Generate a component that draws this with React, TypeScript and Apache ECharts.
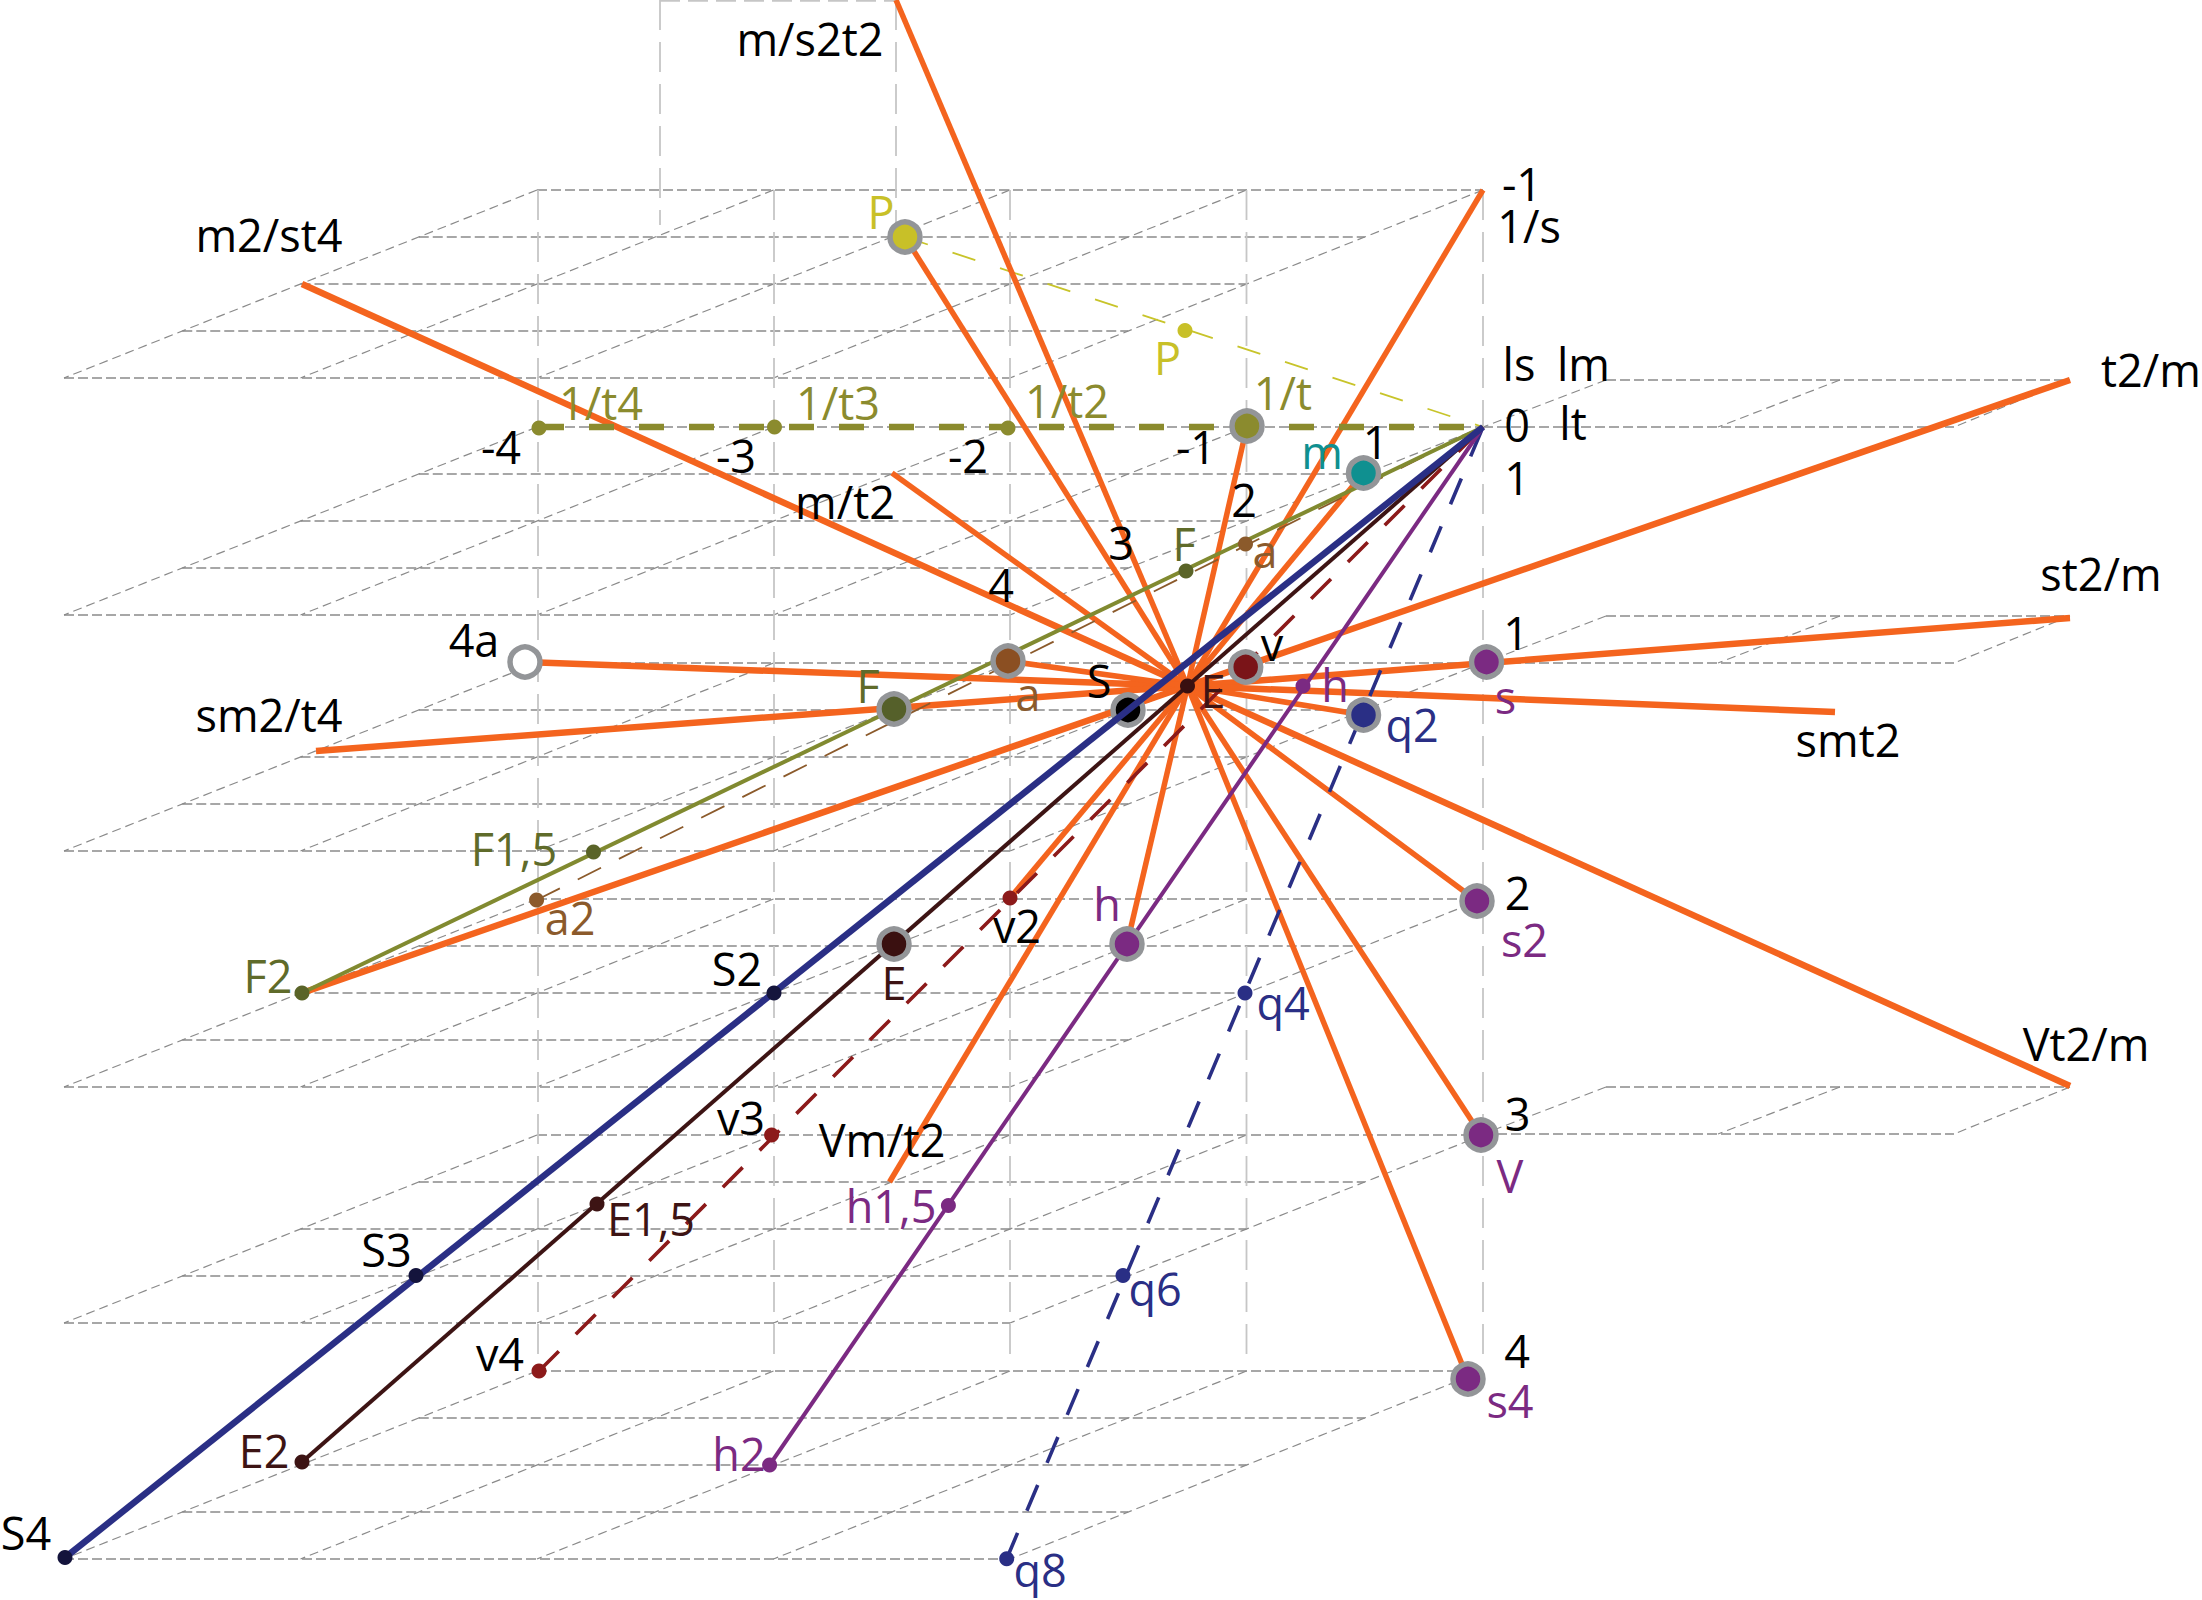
import React, { useEffect, useRef } from "react";
import * as echarts from "echarts";

type P = [number, number];
const ORIGIN: P = [1483, 427];
const CENTER: P = [1187.5, 686];

// Lattice guide planes (y of the back row of each plane)
const planeYs = [190, 427, 663, 899, 1135, 1371];
const rightPlaneYs = [427, 663, 1134];

// Orange rays from the centre point
const heavyRayEnds: P[] = [
  [2070, 380], [2070, 618], [1835, 712], [2070, 1086], [302, 284], [525, 662], [316, 751], [302, 993],
];
const rayEnds: P[] = [
  [1483, 190], [896, 0],
  [905, 237], [892, 473],
  [889.5, 1182], [1127, 944], [1010, 898], [1247, 426], [1363.5, 473],
  [1363.5, 715], [1477, 901], [1481, 1135], [1468, 1379], [1008, 661],
];

// Lines from the origin
const olive: P[] = [ORIGIN, [302, 993]];
const brownDash: P[] = [[536.6, 900], ORIGIN];
const navy: P[] = [ORIGIN, [65, 1557.6]];
const darkBrown: P[] = [ORIGIN, [302, 1462]];
const redDash: P[] = [[539, 1371], ORIGIN];
const purple: P[] = [ORIGIN, [769.6, 1465]];
const navyDash: P[] = [[1006.7, 1558.7], ORIGIN];
const thickOlive: P[] = [[539, 427], ORIGIN];
const yellowDash: P[] = [[905, 237], ORIGIN];

// Ringed points
const ringPoints: [number, number, string][] = [
  [905, 237, "#c8c028"], [1247, 426, "#8b8b2e"], [1363.5, 473, "#0f9090"],
  [1008, 661, "#8b4f22"], [894, 709, "#55602a"], [1128, 710, "#000000"],
  [1245.7, 667, "#7a1418"], [1486.5, 662, "#7b2a82"], [1363.5, 715, "#2a2f85"],
  [894, 944, "#3a1010"], [1127, 944, "#7b2a82"], [1477, 901, "#7b2a82"],
  [1481, 1135, "#7b2a82"], [1468, 1379, "#7b2a82"], [525, 662, "#ffffff"],
];

// Small dots
const smallDots: [number, number, string][] = [
  [539, 428, "#8b8b2e"], [774.5, 427, "#8b8b2e"], [1008, 428, "#8b8b2e"],
  [1185, 330.6, "#c8c028"], [1186, 571, "#5a6428"], [1245.5, 544, "#8b5a2b"],
  [593.5, 852, "#5a6428"], [536.6, 900, "#8b5a2b"], [302, 993, "#5a6428"],
  [774, 993, "#14143c"], [416, 1275.5, "#14143c"], [65, 1557.6, "#14143c"],
  [597, 1204, "#3d1414"], [302, 1462, "#3d1414"], [1187.5, 686, "#3a1010"],
  [1010, 898, "#8c1a1a"], [771.6, 1135, "#8c1a1a"], [539, 1371, "#8c1a1a"],
  [1303, 686, "#7b2a82"], [948.4, 1205.6, "#7b2a82"], [769.6, 1465, "#7b2a82"],
  [1245, 993, "#2a2f85"], [1123, 1275.5, "#2a2f85"], [1006.7, 1558.7, "#2a2f85"],
];

type L = [string, number, number];
const blackLabels: L[] = [
  ["m/s2t2", 810, 38], ["m2/st4", 269, 234], ["-4", 501, 446], ["-3", 736, 455],
  ["-2", 968, 455], ["-1", 1196, 446], ["m/t2", 845, 501], ["4", 1001, 584],
  ["3", 1121, 542], ["2", 1244, 499], ["1", 1375.5, 441], ["4a", 474, 639],
  ["S", 1099, 680], ["v", 1272, 643], ["1", 1516, 632], ["sm2/t4", 269, 714],
  ["-1", 1522, 183], ["1/s", 1529, 225], ["ls", 1519, 363], ["lm", 1583.5, 363],
  ["0", 1517, 424.5], ["lt", 1573, 422], ["1", 1517, 477], ["t2/m", 2151, 369],
  ["st2/m", 2101, 573], ["smt2", 1848, 739], ["S2", 737, 968], ["v2", 1017, 925],
  ["v3", 741, 1117], ["Vm/t2", 882, 1139], ["S3", 386.5, 1249.5], ["v4", 500, 1353],
  ["S4", 26, 1532], ["2", 1517.5, 892], ["3", 1517.5, 1113], ["Vt2/m", 2086, 1043],
  ["4", 1517, 1350.6],
];
const oliveLabels: L[] = [["1/t4", 601, 402], ["1/t3", 838, 402], ["1/t2", 1067, 400], ["1/t", 1283, 392]];
const darkOliveLabels: L[] = [["F", 868, 685], ["F", 1184, 543], ["F1,5", 514, 848], ["F2", 268, 975.5]];
const brownLabels: L[] = [["a", 1028, 693], ["a", 1265, 550], ["a2", 570, 917]];
const yellowLabels: L[] = [["P", 881, 211], ["P", 1167.5, 357]];
const tealLabels: L[] = [["m", 1322, 451]];
const darkBrownLabels: L[] = [["E", 1213, 690], ["E", 894, 982], ["E1,5", 651, 1218], ["E2", 264, 1450]];
const purpleLabels: L[] = [
  ["h", 1335, 684], ["s", 1505.5, 696], ["h", 1107, 903], ["s2", 1524.5, 939],
  ["V", 1510, 1175.6], ["s4", 1510, 1400], ["h1,5", 891, 1205], ["h2", 739, 1453],
];
const navyLabels: L[] = [["q2", 1412, 724], ["q4", 1283, 1002.6], ["q6", 1155, 1288], ["q8", 1040, 1569]];

const line = (data: P[], color: string, width: number, type: any = "solid", z = 2) => ({
  type: "line" as const,
  data,
  showSymbol: false,
  silent: true,
  clip: false,
  z,
  lineStyle: { color, width, type, cap: "butt" as const, opacity: 1 },
});

const GRID_C = "#8a8a8a";
const VERT_C = "#c6c6c6";

function lattice() {
  const out: any[] = [];
  const dashH = [10, 4];
  const dashS = [9, 5];
  planeYs.forEach((y0) => {
    for (let k = 0; k <= 4; k++) {
      const y = y0 + 47 * k;
      out.push(line([[537 - 118.25 * k, y], [1483 - 118.25 * k, y]], GRID_C, 1.6, dashH, 1));
    }
    for (let i = 0; i <= 4; i++) {
      const x = 1483 - 236.5 * i;
      out.push(line([[x, y0], [x - 473, y0 + 188]], GRID_C, 1.2, dashS, 1));
    }
  });
  rightPlaneYs.forEach((y0) => {
    out.push(line([[1606, y0 - 47], [2070, y0 - 47]], GRID_C, 1.4, dashH, 1));
    out.push(line([[1483, y0], [1954, y0]], GRID_C, 1.4, dashH, 1));
    [[1606, 1483], [1840, 1718], [2070, 1954]].forEach(([a, b]) =>
      out.push(line([[a, y0 - 47], [b, y0]], GRID_C, 1.2, dashS, 1)),
    );
  });
  [538, 774, 1010, 1246.5, 1483].forEach((x) =>
    out.push(line([[x, 190], [x, 1360]], VERT_C, 1.8, [30, 12], 1)),
  );
  [660, 896].forEach((x) => out.push(line([[x, 0], [x, 225]], VERT_C, 1.8, [30, 12], 1)));
  out.push(line([[660, 0.9], [896, 0.9]], VERT_C, 1.8, [20, 8], 1));
  return out;
}

const labelSeries = (items: L[], color: string) => ({
  type: "scatter" as const,
  silent: true,
  z: 10,
  clip: false,
  symbolSize: 1,
  itemStyle: { color: "transparent", opacity: 1 },
  data: items.map(([t, x, y]) => ({ name: t, value: [x, y] })),
  label: {
    show: true,
    position: "inside" as const,
    formatter: "{b}",
    color,
    opacity: 1,
    fontFamily: "'Open Sans'",
    fontSize: 45,
    align: "center" as const,
    verticalAlign: "middle" as const,
  },
});

export default function App() {
  const ref = useRef<HTMLDivElement>(null);
  useEffect(() => {
    document.body.style.margin = "0";
    const chart = echarts.init(ref.current!, undefined, { renderer: "svg" });
    const axis = { show: false, scale: false, splitLine: { show: false } };
    chart.setOption({
      animation: false,
      backgroundColor: "#ffffff",
      grid: { left: 0, right: 0, top: 0, bottom: 0 },
      xAxis: { ...axis, type: "value", min: 0, max: 2202 },
      yAxis: { ...axis, type: "value", min: 0, max: 1600, inverse: true },
      series: [
        ...lattice(),
        line(yellowDash, "#c8c42a", 1.8, [24, 26], 2),
        ...heavyRayEnds.map((e) => line([CENTER, e], "#f4641e", 6.5, "solid", 3)),
        ...rayEnds.map((e) => line([CENTER, e], "#f4641e", 5.5, "solid", 3)),
        line(thickOlive, "#8b8b2e", 6.5, [25, 25], 4),
        line(brownDash, "#8b5a2b", 1.8, [26, 20], 4),
        line(olive, "#818a30", 4, "solid", 5),
        line(redDash, "#8c1a1a", 3.6, [28, 24], 5),
        line(navyDash, "#2a2f85", 3.6, [28, 24], 5),
        line(darkBrown, "#3d1414", 4, "solid", 5),
        line(purple, "#7b2a82", 4, "solid", 5),
        {
          type: "scatter",
          silent: true,
          z: 6,
          clip: false,
          symbolSize: 30,
          data: ringPoints.map(([x, y, c]) => ({
            value: [x, y],
            itemStyle: { color: c, borderColor: "#939598", borderWidth: 5.5, opacity: 1 },
          })),
        },
        line(navy, "#2a2f85", 6.5, "solid", 7),
        {
          type: "scatter",
          silent: true,
          z: 8,
          clip: false,
          symbolSize: 15,
          data: smallDots.map(([x, y, c]) => ({ value: [x, y], itemStyle: { color: c, opacity: 1 } })),
        },
        labelSeries(blackLabels, "#000000"),
        labelSeries(oliveLabels, "#8b8b2e"),
        labelSeries(darkOliveLabels, "#5f6b2a"),
        labelSeries(brownLabels, "#8b5a2b"),
        labelSeries(yellowLabels, "#c8c028"),
        labelSeries(tealLabels, "#0f9090"),
        labelSeries(darkBrownLabels, "#3d1414"),
        labelSeries(purpleLabels, "#7b2a82"),
        labelSeries(navyLabels, "#2a2f85"),
      ],
    });
    return () => chart.dispose();
  }, []);
  return <div ref={ref} style={{ position: "absolute", left: 0, top: 0, width: 2202, height: 1600 }} />;
}
